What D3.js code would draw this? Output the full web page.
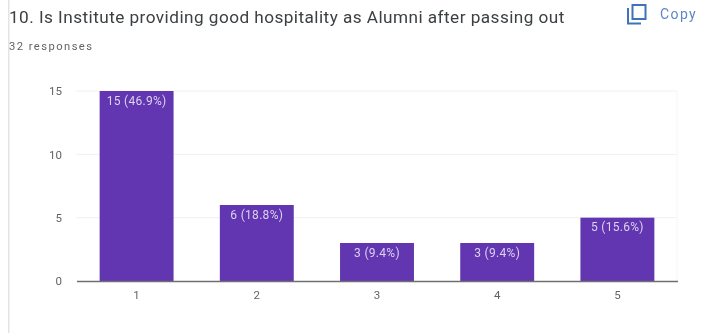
<!DOCTYPE html>
<html><head><meta charset="utf-8">
<script src="https://cdn.jsdelivr.net/npm/d3@7/dist/d3.min.js"></script>
<style>html,body{margin:0;padding:0;background:#fff;overflow:hidden}svg{display:block;filter:blur(0.45px)}text{font-family:Roboto,sans-serif}</style>
</head><body>
<svg id="c" width="708" height="333"></svg>
<script>
const categories = ["1","2","3","4","5"];
const counts = [15,6,3,3,5];
const labels = ["15 (46.9%)","6 (18.8%)","3 (9.4%)","3 (9.4%)","5 (15.6%)"];
const yTicks = [0,5,10,15];
const titleText = "10. Is Institute providing good hospitality as Alumni after passing out";
const subtitleText = "32 responses";
const copyText = "Copy";

const svg = d3.select("#c");
const x = d3.scaleBand().domain(categories).range([76.5,677.5]).paddingInner(0.385).paddingOuter(0.1925);
const y = d3.scaleLinear().domain([0,15]).range([281,91]);

svg.append("rect").attr("x",8).attr("y",0).attr("width",1.5).attr("height",333).attr("fill","#e4e4e4");
svg.append("text").attr("x",9).attr("y",22.5).attr("font-size",17.2).attr("letter-spacing",0.45).attr("fill","#3c4043").text(titleText);
svg.append("text").attr("x",9).attr("y",50).attr("font-size",11.2).attr("letter-spacing",1.45).attr("fill","#5f6368").text(subtitleText);

// copy icon
const ic = svg.append("g").attr("fill","none").attr("stroke","#3f72b8").attr("stroke-width",2);
ic.append("path").attr("d","M628 8V23.5H641");
ic.append("rect").attr("x",632.5).attr("y",5).attr("width",13).attr("height",14);
svg.append("text").attr("x",660).attr("y",18.5).attr("font-size",14).attr("letter-spacing",1.4).attr("fill","#5c86c4").text(copyText);

// grid
svg.append("g").selectAll("line").data(yTicks.filter(d=>d>0)).join("line")
  .attr("x1",76).attr("x2",677).attr("y1",d=>y(d)).attr("y2",d=>y(d))
  .attr("stroke","#f0f0f0").attr("stroke-width",1);
svg.append("line").attr("x1",677).attr("x2",677).attr("y1",91).attr("y2",281).attr("stroke","#f6f6f6");

const yAxis = d3.axisLeft(y).tickValues(yTicks).tickSize(0).tickPadding(14);
const gy = svg.append("g").attr("transform","translate(76,0)").call(yAxis);
gy.select(".domain").remove();
gy.selectAll("text").attr("font-size",11.5).attr("fill","#606468").style("font-family","Roboto,sans-serif");

svg.append("g").selectAll("rect").data(categories).join("rect")
  .attr("x",d=>x(d)).attr("width",x.bandwidth())
  .attr("y",(d,i)=>y(counts[i])).attr("height",(d,i)=>y(0)-y(counts[i]))
  .attr("fill","#6236b0");

svg.append("g").selectAll("text").data(categories).join("text")
  .attr("x",d=>x(d)+x.bandwidth()/2).attr("y",(d,i)=>y(counts[i])+13.5)
  .attr("text-anchor","middle").attr("font-size",12).attr("letter-spacing",0.3).attr("fill","#dcd3f0")
  .text((d,i)=>labels[i]);

const xAxis = d3.axisBottom(x).tickSize(0).tickPadding(10);
const gx = svg.append("g").attr("transform","translate(0,281)").call(xAxis);
gx.select(".domain").attr("stroke","#6f6f73").attr("stroke-width",1.6);
gx.selectAll("text").attr("font-size",11.5).attr("fill","#606468").style("font-family","Roboto,sans-serif");
</script>
</body></html>
